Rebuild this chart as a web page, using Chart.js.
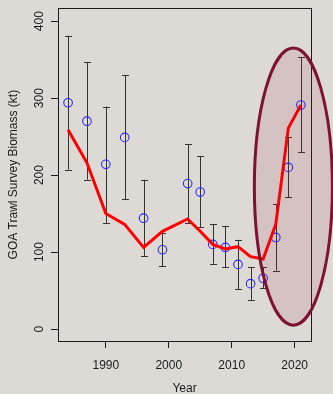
<!DOCTYPE html>
<html>
<head>
<meta charset="utf-8">
<script src="https://cdn.jsdelivr.net/npm/chart.js@4/dist/chart.umd.min.js"></script>
<style>
  html, body { margin: 0; padding: 0; background: #dddad5; }
  #wrap { width: 333px; height: 394px; }
</style>
</head>
<body>
<div id="wrap"><canvas id="c" width="333" height="394"></canvas></div>
<script>
// Survey years
const years = [1984, 1987, 1990, 1993, 1996, 1999, 2003, 2005, 2007, 2009, 2011, 2013, 2015, 2017, 2019, 2021];
// Observed survey biomass (kt) with 95% interval
const observed = [294, 270, 214, 249, 144, 103, 189, 178, 110, 106, 84, 59, 66, 119, 210, 291];
const lowerCI  = [207, 194, 138, 169, 95, 82, 138, 132, 85, 80, 52, 38, 53, 76, 171, 230];
const upperCI  = [381, 347, 289, 330, 194, 125, 240, 225, 136, 134, 116, 80, 80, 162, 249, 353];
// Model-predicted survey biomass (kt)
const predicted = [259, 216, 150, 136, 106, 127, 143, 127, 110, 104, 107, 94, 91, 136, 261, 291];
// Axis ticks
const xTicks = [1990, 2000, 2010, 2020];
const yTicks = [0, 100, 200, 300, 400];
// Highlighted recent period: centre (year, kt) and half-extents (years, kt)
const highlightCentre = [2019.8, 185];
const highlightHalf = [6.2, 180];

const FONT = "'Liberation Sans', Arial, sans-serif";
const INK = '#1a1a1a';

const errorBars = {
  id: 'errorBars',
  beforeDatasetsDraw(chart) {
    const { ctx, scales: { x, y } } = chart;
    ctx.save();
    ctx.strokeStyle = '#333333';
    ctx.lineWidth = 1;
    const cap = 3.5;
    years.forEach((yr, i) => {
      const px = Math.round(x.getPixelForValue(yr)) + 0.5;
      const lo = y.getPixelForValue(lowerCI[i]);
      const hi = y.getPixelForValue(upperCI[i]);
      ctx.beginPath();
      ctx.moveTo(px, lo); ctx.lineTo(px, hi);
      ctx.moveTo(px - cap, Math.round(lo) + 0.5); ctx.lineTo(px + cap, Math.round(lo) + 0.5);
      ctx.moveTo(px - cap, Math.round(hi) + 0.5); ctx.lineTo(px + cap, Math.round(hi) + 0.5);
      ctx.stroke();
    });
    ctx.restore();
  }
};

const frame = {
  id: 'frame',
  afterDraw(chart) {
    const { ctx, chartArea: a } = chart;
    ctx.save();
    ctx.strokeStyle = INK;
    ctx.lineWidth = 1;
    ctx.strokeRect(Math.round(a.left) + 0.5, Math.round(a.top) + 0.5,
                   Math.round(a.right - a.left), Math.round(a.bottom - a.top));
    ctx.restore();
  }
};

const highlight = {
  id: 'highlight',
  afterDraw(chart) {
    const { ctx, scales: { x, y } } = chart;
    const cx = x.getPixelForValue(highlightCentre[0]);
    const cy = y.getPixelForValue(highlightCentre[1]);
    const rx = Math.abs(x.getPixelForValue(highlightCentre[0] + highlightHalf[0]) - cx);
    const ry = Math.abs(y.getPixelForValue(highlightCentre[1] + highlightHalf[1]) - cy);
    ctx.save();
    ctx.beginPath();
    ctx.ellipse(cx, cy, rx, ry, 0, 0, Math.PI * 2);
    ctx.fillStyle = 'rgba(150, 30, 60, 0.12)';
    ctx.fill();
    ctx.lineWidth = 3;
    ctx.strokeStyle = '#7d1232';
    ctx.stroke();
    ctx.restore();
  }
};

const bg = {
  id: 'bg',
  beforeDraw(chart) {
    const { ctx, width, height } = chart;
    ctx.save();
    ctx.fillStyle = '#dddad5';
    ctx.fillRect(0, 0, width, height);
    ctx.restore();
  }
};

new Chart(document.getElementById('c'), {
  type: 'scatter',
  data: {
    datasets: [
      {
        type: 'line',
        label: 'Predicted',
        data: years.map((yr, i) => ({ x: yr, y: predicted[i] })),
        borderColor: '#ff0000',
        borderWidth: 3,
        pointRadius: 0,
        fill: false,
        tension: 0,
        order: 1
      },
      {
        label: 'Observed',
        data: years.map((yr, i) => ({ x: yr, y: observed[i] })),
        pointStyle: 'circle',
        pointRadius: 4.3,
        pointBorderWidth: 1.1,
        pointBorderColor: '#2b2bf2',
        pointBackgroundColor: 'rgba(0,0,0,0)',
        order: 2
      }
    ]
  },
  options: {
    responsive: false,
    animation: false,
    devicePixelRatio: 1,
    layout: { padding: { left: 0, right: 22, top: 6, bottom: 0 } },
    plugins: {
      legend: { display: false },
      tooltip: { enabled: false }
    },
    scales: {
      x: {
        type: 'linear',
        min: 1982.4,
        max: 2022.6,
        afterBuildTicks(scale) { scale.ticks = xTicks.map(v => ({ value: v })); },
        afterFit(scale) { scale.height = 53; },
        grid: { display: true, drawOnChartArea: false, drawTicks: true, tickLength: 7, color: INK, lineWidth: 1 },
        border: { display: true, color: INK, width: 1 },
        ticks: {
          font: { family: FONT, size: 12 },
          color: INK,
          padding: 10,
          maxRotation: 0,
          minRotation: 0,
          callback: v => String(v)
        },
        title: {
          display: true,
          text: 'Year',
          font: { family: FONT, size: 12 },
          color: INK,
          padding: { top: 0, bottom: -2 }
        }
      },
      y: {
        type: 'linear',
        min: -15.5,
        max: 416.8,
        afterBuildTicks(scale) { scale.ticks = yTicks.map(v => ({ value: v })); },
        afterFit(scale) { scale.width = 58; },
        grid: { display: true, drawOnChartArea: false, drawTicks: true, tickLength: 7, color: INK, lineWidth: 1 },
        border: { display: true, color: INK, width: 1 },
        ticks: {
          font: { family: FONT, size: 12 },
          color: INK,
          padding: 1,
          minRotation: 90,
          maxRotation: 90,
          crossAlign: 'center',
          callback: v => String(v)
        },
        title: {
          display: true,
          text: 'GOA Trawl Survey Biomass (kt)',
          font: { family: FONT, size: 12 },
          color: INK,
          padding: { top: 6, bottom: 0 }
        }
      }
    }
  },
  plugins: [bg, errorBars, frame, highlight]
});
</script>
</body>
</html>
